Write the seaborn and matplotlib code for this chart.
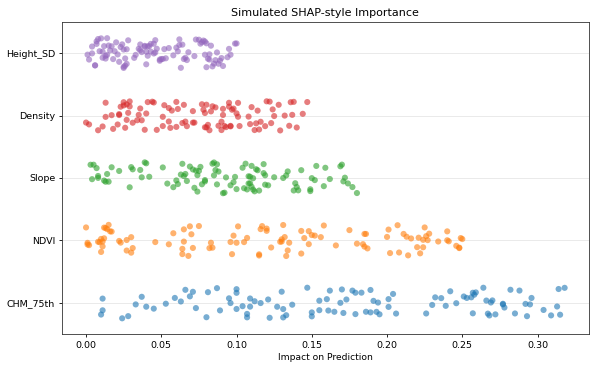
import numpy as np
import pandas as pd
import matplotlib
matplotlib.use("Agg")
import matplotlib.pyplot as plt
import seaborn as sns

# feature names, top to bottom as drawn
features = ["Height_SD", "Density", "Slope", "NDVI", "CHM_75th"]

# impact values
height_sd = [
    0.001, 0.002, 0.004, 0.004, 0.006, 0.006, 0.007, 0.007, 0.008, 0.009,
    0.010, 0.011, 0.011, 0.012, 0.013, 0.013, 0.014, 0.014, 0.015, 0.016,
    0.017, 0.018, 0.019, 0.020, 0.021, 0.022, 0.023, 0.024, 0.025, 0.025,
    0.025, 0.026, 0.026, 0.027, 0.027, 0.028, 0.032, 0.033, 0.035, 0.036,
    0.036, 0.037, 0.039, 0.039, 0.040, 0.040, 0.041, 0.041, 0.042, 0.043,
    0.043, 0.045, 0.045, 0.046, 0.046, 0.047, 0.049, 0.049, 0.050, 0.051,
    0.052, 0.053, 0.055, 0.058, 0.060, 0.061, 0.062, 0.062, 0.063, 0.064,
    0.065, 0.066, 0.067, 0.068, 0.072, 0.073, 0.075, 0.076, 0.077, 0.078,
    0.079, 0.079, 0.080, 0.080, 0.081, 0.082, 0.082, 0.083, 0.084, 0.085,
    0.086, 0.087, 0.088, 0.089, 0.090, 0.091, 0.094, 0.095, 0.096, 0.099,
    0.100,
]
density = [
    0.000, 0.002, 0.008, 0.011, 0.013, 0.013, 0.017, 0.018, 0.021, 0.022,
    0.022, 0.023, 0.025, 0.025, 0.026, 0.027, 0.027, 0.028, 0.029, 0.029,
    0.031, 0.034, 0.035, 0.036, 0.037, 0.039, 0.040, 0.041, 0.044, 0.045,
    0.047, 0.051, 0.051, 0.052, 0.055, 0.055, 0.056, 0.057, 0.060, 0.060,
    0.061, 0.064, 0.065, 0.066, 0.067, 0.071, 0.071, 0.072, 0.077, 0.078,
    0.079, 0.079, 0.080, 0.080, 0.081, 0.082, 0.083, 0.084, 0.086, 0.088,
    0.090, 0.090, 0.091, 0.091, 0.092, 0.093, 0.095, 0.095, 0.096, 0.096,
    0.097, 0.098, 0.100, 0.101, 0.101, 0.102, 0.108, 0.109, 0.110, 0.112,
    0.113, 0.114, 0.115, 0.116, 0.119, 0.120, 0.122, 0.123, 0.124, 0.125,
    0.128, 0.129, 0.132, 0.135, 0.136, 0.137, 0.138, 0.140, 0.144, 0.147,
]
slope = [
    0.003, 0.004, 0.005, 0.007, 0.008, 0.008, 0.012, 0.013, 0.014, 0.015,
    0.017, 0.022, 0.029, 0.030, 0.031, 0.036, 0.037, 0.039, 0.040, 0.042,
    0.051, 0.054, 0.058, 0.060, 0.061, 0.063, 0.064, 0.065, 0.066, 0.067,
    0.069, 0.071, 0.072, 0.073, 0.074, 0.074, 0.075, 0.076, 0.077, 0.079,
    0.079, 0.084, 0.085, 0.085, 0.086, 0.087, 0.087, 0.088, 0.091, 0.092,
    0.093, 0.096, 0.098, 0.099, 0.100, 0.104, 0.105, 0.106, 0.107, 0.108,
    0.108, 0.109, 0.109, 0.110, 0.110, 0.111, 0.111, 0.112, 0.113, 0.114,
    0.115, 0.118, 0.118, 0.119, 0.119, 0.121, 0.125, 0.131, 0.133, 0.134,
    0.138, 0.139, 0.140, 0.141, 0.143, 0.149, 0.149, 0.150, 0.152, 0.153,
    0.158, 0.159, 0.162, 0.169, 0.170, 0.171, 0.172, 0.174, 0.177, 0.180,
]
ndvi = [
    0.000, 0.001, 0.001, 0.002, 0.008, 0.009, 0.010, 0.010, 0.011, 0.011,
    0.012, 0.012, 0.013, 0.014, 0.015, 0.016, 0.017, 0.022, 0.023, 0.027,
    0.027, 0.030, 0.030, 0.031, 0.046, 0.055, 0.058, 0.064, 0.064, 0.065,
    0.065, 0.068, 0.069, 0.070, 0.071, 0.075, 0.082, 0.083, 0.084, 0.096,
    0.097, 0.098, 0.100, 0.101, 0.105, 0.107, 0.115, 0.115, 0.116, 0.117,
    0.120, 0.120, 0.123, 0.129, 0.130, 0.130, 0.131, 0.132, 0.133, 0.134,
    0.135, 0.143, 0.143, 0.145, 0.148, 0.148, 0.150, 0.152, 0.156, 0.158,
    0.166, 0.175, 0.180, 0.184, 0.185, 0.185, 0.186, 0.187, 0.200, 0.201,
    0.202, 0.207, 0.208, 0.211, 0.213, 0.214, 0.216, 0.220, 0.221, 0.222,
    0.224, 0.224, 0.225, 0.226, 0.227, 0.228, 0.234, 0.240, 0.240, 0.241,
    0.246, 0.248, 0.248, 0.249, 0.250,
]
chm_75th = [
    0.010, 0.011, 0.011, 0.024, 0.028, 0.033, 0.037, 0.040, 0.045, 0.053,
    0.059, 0.063, 0.066, 0.069, 0.071, 0.073, 0.080, 0.081, 0.087, 0.089,
    0.095, 0.096, 0.100, 0.100, 0.100, 0.104, 0.107, 0.107, 0.109, 0.109,
    0.112, 0.116, 0.121, 0.122, 0.127, 0.130, 0.131, 0.131, 0.133, 0.137,
    0.147, 0.150, 0.150, 0.155, 0.155, 0.160, 0.161, 0.162, 0.165, 0.169,
    0.170, 0.171, 0.173, 0.177, 0.179, 0.179, 0.183, 0.186, 0.189, 0.189,
    0.191, 0.193, 0.194, 0.195, 0.201, 0.201, 0.204, 0.206, 0.226, 0.230,
    0.232, 0.236, 0.239, 0.242, 0.246, 0.251, 0.253, 0.256, 0.257, 0.257,
    0.258, 0.259, 0.264, 0.266, 0.267, 0.268, 0.269, 0.270, 0.272, 0.277,
    0.277, 0.278, 0.282, 0.285, 0.288, 0.292, 0.293, 0.295, 0.296, 0.304,
    0.309, 0.313, 0.314, 0.315, 0.318,
]

values = {
    "Height_SD": height_sd,
    "Density": density,
    "Slope": slope,
    "NDVI": ndvi,
    "CHM_75th": chm_75th,
}
colors = {
    "CHM_75th": "tab:blue",
    "NDVI": "tab:orange",
    "Slope": "tab:green",
    "Density": "tab:red",
    "Height_SD": "tab:purple",
}

df = pd.DataFrame(
    [(f, v) for f in features for v in values[f]],
    columns=["Feature", "Impact"],
)

np.random.seed(3)  # jitter is random in seaborn
fig, ax = plt.subplots(figsize=(6.15, 3.7), dpi=100)
sns.stripplot(data=df, x="Impact", y="Feature", hue="Feature", order=features,
              palette=colors, jitter=0.25, size=4.4, alpha=0.6, linewidth=0,
              legend=False, ax=ax)

ax.set_title("Simulated SHAP-style Importance", fontsize=8, pad=4)
ax.set_xlabel("Impact on Prediction", fontsize=6.6, labelpad=2)
ax.set_ylabel("")
ax.tick_params(labelsize=6.8, length=2.5, width=0.6, pad=2.5)
for sp in ax.spines.values():
    sp.set_linewidth(0.6)
    sp.set_color("#333333")
ax.grid(axis="y", alpha=0.3, linewidth=0.6)
ax.set_axisbelow(True)

plt.subplots_adjust(left=0.101, right=0.957, top=0.941, bottom=0.097)
plt.savefig("out.png", dpi=100)
